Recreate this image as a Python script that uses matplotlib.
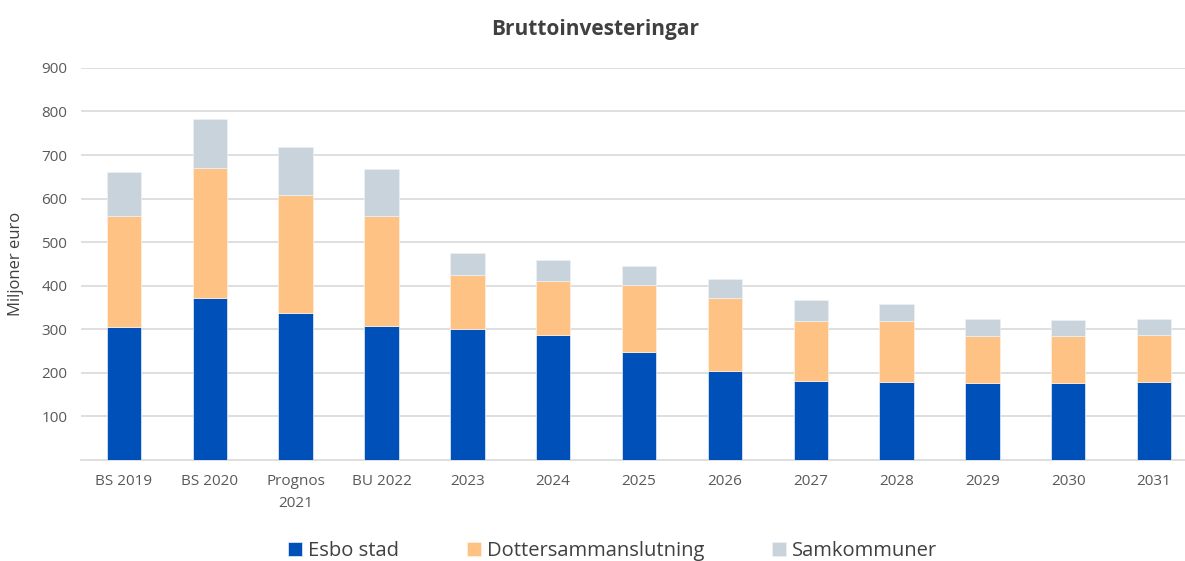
import matplotlib.pyplot as plt
import numpy as np

categories = ["BS 2019", "BS 2020", "Prognos\n2021", "BU 2022", "2023", "2024", "2025",
              "2026", "2027", "2028", "2029", "2030", "2031"]
esbo_stad = [305, 373, 338, 308, 300, 288, 249, 205, 182, 180, 177, 177, 179]
dotter = [255, 297, 270, 252, 125, 122, 153, 168, 137, 139, 108, 108, 109]
samkommuner = [100, 112, 111, 107, 51, 48, 44, 43, 48, 39, 39, 36, 36]
yticks = [100, 200, 300, 400, 500, 600, 700, 800, 900]

plt.rcParams['font.family'] = ['Open Sans', 'DejaVu Sans']

fig = plt.figure(figsize=(11.85, 5.61), dpi=100)
ax = fig.add_axes([0.0684, 0.18, 0.9417, 0.699])

x = np.arange(len(categories))
w = 0.4
esbo = np.array(esbo_stad)
dot = np.array(dotter)
sam = np.array(samkommuner)
ax.bar(x, esbo, w, color="#0050BA", edgecolor="#E8EEF8", linewidth=0.5, label="Esbo stad", zorder=3)
ax.bar(x, dot, w, bottom=esbo, color="#FFC285", edgecolor="#FFF0E0", linewidth=0.5,
       label="Dottersammanslutning", zorder=3)
ax.bar(x, sam, w, bottom=esbo + dot, color="#C9D3DC", edgecolor="#EEF1F4", linewidth=0.5,
       label="Samkommuner", zorder=3)

ax.set_xlim(-0.5, len(categories) - 0.5)
ax.set_ylim(0, 900)
ax.set_yticks(yticks)
ax.set_xticks(x)
ax.set_xticklabels(categories, fontsize=11, color="#595959", linespacing=1.6)
ax.tick_params(axis="y", labelsize=11, labelcolor="#595959", length=0, pad=10)
ax.tick_params(axis="x", length=0, pad=10)
ax.yaxis.grid(True, color="#D9D9D9", linewidth=1.2, zorder=0)
for s in ["top", "right", "left"]:
    ax.spines[s].set_visible(False)
ax.spines["bottom"].set_color("#D9D9D9")
ax.spines["bottom"].set_linewidth(1.2)

ax.set_ylabel("Miljoner euro", fontsize=12, color="#404040", labelpad=12)
fig.text(0.502, 0.948, "Bruttoinvesteringar", ha="center", va="center",
         fontsize=15, fontweight="bold", color="#404040")

fig.legend(loc="center", bbox_to_anchor=(0.517, 0.017), ncol=3, frameon=False,
           fontsize=14.5, labelcolor="#404040", handlelength=0.7, handleheight=0.7,
           handletextpad=0.3, columnspacing=3.35)

fig.savefig("out.png", dpi=100)
